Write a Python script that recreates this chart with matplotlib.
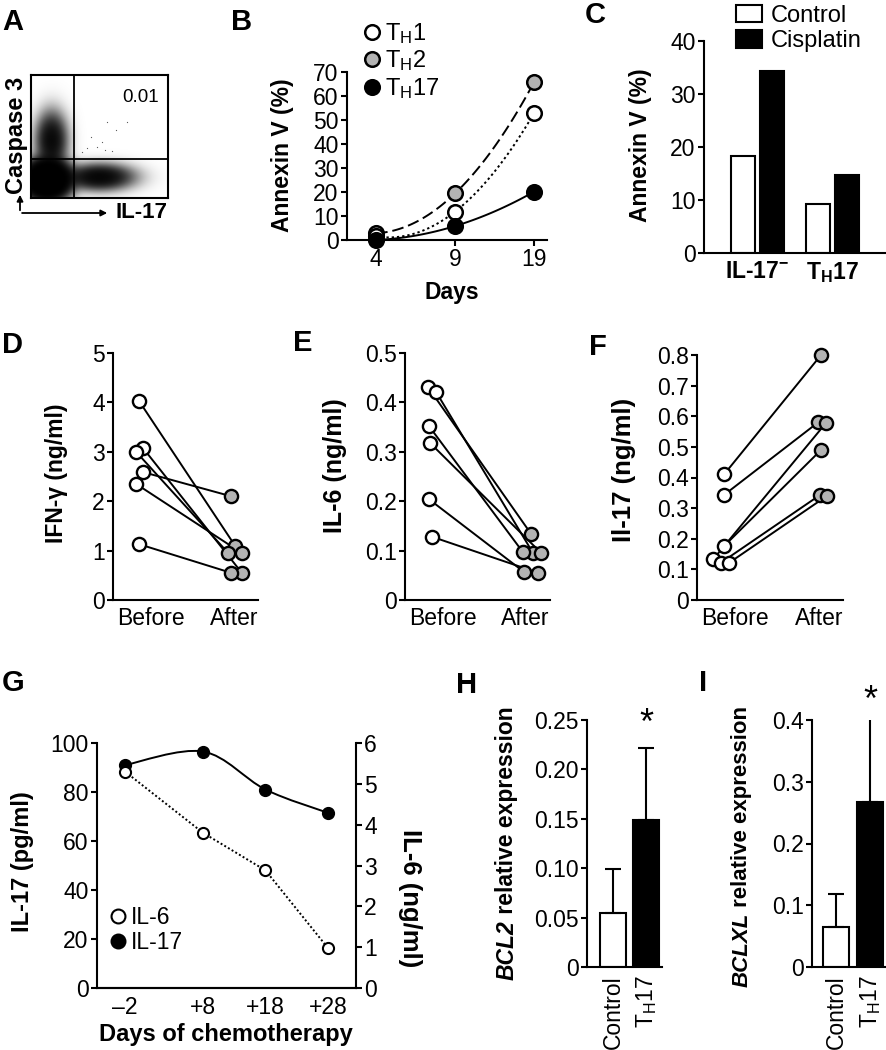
import numpy as np
import matplotlib
matplotlib.use("Agg")
import matplotlib.pyplot as plt
from matplotlib.lines import Line2D
from matplotlib.patches import Patch, PathPatch, FancyArrowPatch
from matplotlib.path import Path

W, H = 887, 1050

plt.rcParams["font.family"] = "Liberation Sans"
plt.rcParams["mathtext.fontset"] = "custom"
plt.rcParams["mathtext.rm"] = "Liberation Sans"
plt.rcParams["mathtext.it"] = "Liberation Sans:italic:bold"
plt.rcParams["mathtext.bf"] = "Liberation Sans:bold"
plt.rcParams["axes.linewidth"] = 1.5

GREY = "#b3b3b3"
TICK = 16.5
LAB = 16.5

# ------------------------------------------------------------------
# Data
# ------------------------------------------------------------------
# A: flow cytometry populations (centre x, centre y, sd x, sd y, weight)
flow_cx = [0.117, 0.150, 0.500]
flow_cy = [0.150, 0.470, 0.170]
flow_sx = [0.085, 0.060, 0.130]
flow_sy = [0.080, 0.120, 0.055]
flow_w = [9.0, 1.8, 2.0]
# sparse double-positive events
flow_dp_x = [0.557, 0.438, 0.516, 0.406, 0.479, 0.540, 0.589, 0.370, 0.703, 0.62]
flow_dp_y = [0.620, 0.493, 0.458, 0.404, 0.412, 0.390, 0.385, 0.376, 0.620, 0.55]
gate_x = 0.314
gate_y = 0.317

# B
b_days = ["4", "9", "19"]
b_th1 = [1.5, 11.8, 52.8]
b_th2 = [2.8, 19.4, 65.7]
b_th17 = [0.0, 5.8, 20.1]

# C
c_groups = [r"IL-17$^{\mathregular{-}}$", r"T$_{\mathregular{H}}$17"]
c_control = [18.3, 9.3]
c_cisplatin = [34.4, 14.8]

# D
d_before = [4.03, 3.08, 3.00, 2.59, 2.35, 1.13]
d_after = [1.10, 0.55, 0.95, 2.10, 0.95, 0.55]
d_jit_before = [0.0, 0.04, -0.03, 0.04, -0.03, 0.0]
d_jit_after = [-0.01, 0.06, -0.08, -0.05, 0.06, -0.05]

# E
e_before = [0.431, 0.421, 0.352, 0.318, 0.204, 0.128]
e_after = [0.134, 0.095, 0.097, 0.095, 0.057, 0.055]
e_jit_before = [-0.02, 0.06, -0.01, 0.0, -0.01, 0.02]
e_jit_after = [-0.01, 0.01, -0.09, 0.09, -0.08, 0.06]

# F
f_before = [0.410, 0.343, 0.176, 0.133, 0.122, 0.121]
f_after = [0.800, 0.580, 0.490, 0.578, 0.343, 0.340]
f_jit_before = [0.0, 0.0, 0.0, -0.11, -0.03, 0.05]
f_jit_after = [-0.01, -0.04, -0.01, 0.04, -0.02, 0.05]

# G
g_days = ["\u20132", "+8", "+18", "+28"]
g_xpos = [0.0, 1.0, 1.8, 2.6]
g_il17 = [91.0, 96.5, 81.0, 71.5]
g_il6 = [5.30, 3.80, 2.88, 0.98]

# H, I
hi_groups = ["Control", r"T$_{\mathregular{H}}$17"]
h_mean = [0.055, 0.149]
h_err = [0.044, 0.073]
i_mean = [0.065, 0.267]
i_err = [0.053, 0.144]


fig = plt.figure(figsize=(W / 100, H / 100), dpi=100)


def add_ax(left, top, right, bottom):
    return fig.add_axes([left / W, 1 - bottom / H, (right - left) / W, (bottom - top) / H])


def style(ax):
    ax.spines["top"].set_visible(False)
    ax.spines["right"].set_visible(False)
    ax.tick_params(direction="out", length=4, width=1.5, labelsize=TICK, pad=2)


def fig_text(px, py, s, **kw):
    return fig.text(px / W, 1 - py / H, s, **kw)


def ylabel(px, py, s, rot=90, size=LAB):
    fig_text(px, py, s, rotation=rot, ha="center", va="center",
             fontsize=size, fontweight="bold")


def gene_ylabel(px, py_bottom, gene, rest, size):
    # italic gene name followed by plain bold text, reading bottom to top
    t1 = fig_text(px, py_bottom, gene, rotation=90, ha="center", va="bottom",
                  fontsize=size, fontweight="bold", fontstyle="italic")
    fig.text(0.5, 1.0, rest, transform=matplotlib.transforms.offset_copy(
        t1.get_transform(), fig=fig), fontsize=size, fontweight="bold")
    return t1


def smooth(ax, x, y, **kw):
    # Catmull-Rom curve through the points, drawn as cubic Bezier path
    p = np.column_stack([x, y]).astype(float)
    pts = np.vstack([p[0], p, p[-1]])
    verts = [p[0]]
    codes = [Path.MOVETO]
    for i in range(1, len(pts) - 2):
        c1 = pts[i] + (pts[i + 1] - pts[i - 1]) / 6
        c2 = pts[i + 1] - (pts[i + 2] - pts[i]) / 6
        verts += [c1, c2, pts[i + 1]]
        codes += [Path.CURVE4] * 3
    ax.add_patch(PathPatch(Path(verts, codes), fill=False, **kw))


# panel letters
for letter, (px, py) in zip("ABCDEFGHI", [(13, 22), (242, 22), (595, 15), (13, 345), (303, 343),
                                       (598, 347), (13, 683), (467, 685), (703, 683)]):
    fig_text(px, py, letter, fontsize=21, fontweight="bold", ha="center", va="center")

# ------------------------------------------------------------------
# A  flow plot
# ------------------------------------------------------------------
ax = add_ax(31, 75, 168, 198)
nx, ny = 274, 246
gx = (np.arange(nx) + 0.5) / nx
gy = (np.arange(ny) + 0.5) / ny
X, Y = np.meshgrid(gx, gy)
dens = np.zeros_like(X)
for cx, cy, sx, sy, w in zip(flow_cx, flow_cy, flow_sx, flow_sy, flow_w):
    dens += w * np.exp(-0.5 * (((X - cx) / sx) ** 2 + ((Y - cy) / sy) ** 2))
shade = (1 - np.exp(-1.6 * dens)) ** 0.7
ax.imshow(shade, origin="lower", extent=[0, 1, 0, 1], cmap="gray_r",
          interpolation="bilinear", aspect="auto", vmin=0, vmax=1)
ax.scatter(flow_dp_x, flow_dp_y, s=0.8, color="0.35", linewidths=0)
ax.axvline(gate_x, color="black", lw=1.3)
ax.axhline(gate_y, color="black", lw=1.3)
ax.set_xlim(0, 1)
ax.set_ylim(0, 1)
ax.set_xticks([])
ax.set_yticks([])
ax.text(0.8, 0.82, "0.01", transform=ax.transAxes, fontsize=13.5, ha="center", va="center")
fig.add_artist(FancyArrowPatch(
    (20 / W, 1 - 213 / H), (20 / W, 1 - 192 / H), transform=fig.transFigure,
    arrowstyle="-|>", mutation_scale=9, lw=1.3, color="black"))
fig.add_artist(FancyArrowPatch(
    (19.3 / W, 1 - 213 / H), (110 / W, 1 - 213 / H), transform=fig.transFigure,
    arrowstyle="-|>", mutation_scale=9, lw=1.3, color="black"))
fig_text(116, 213, "IL-17", fontsize=16, fontweight="bold", ha="left", va="center")
fig_text(17, 135, "Caspase 3", fontsize=17, fontweight="bold", ha="center", va="center",
         rotation=90)

# ------------------------------------------------------------------
# B
# ------------------------------------------------------------------
ax = add_ax(347, 72, 547, 240)
style(ax)
xb = np.arange(len(b_days))
xs = np.linspace(0, 2, 100)
for vals, ls in [(b_th2, (0, (6, 2.5))), (b_th1, (0, (1.2, 1.5))), (b_th17, "-")]:
    coef = np.polyfit(xb, vals, 2)
    ax.plot(xs, np.polyval(coef, xs), color="black", lw=1.4, ls=ls, clip_on=False)
ax.plot(xb, b_th2, "o", ms=10.5, mfc=GREY, mec="black", mew=1.8, clip_on=False, zorder=5)
ax.plot(xb, b_th1, "o", ms=10.5, mfc="white", mec="black", mew=1.8, clip_on=False, zorder=6)
ax.plot(xb, b_th17, "o", ms=10.5, mfc="black", mec="black", mew=1.8, clip_on=False, zorder=7)
ax.set_xlim(-0.367, 2.165)
ax.set_ylim(0, 70)
ax.set_yticks(range(0, 71, 10))
ax.set_xticks(xb)
ax.set_xticklabels(b_days)
ylabel(283, 155, "Annexin V (%)")
fig_text(452, 292, "Days", fontsize=16.5, fontweight="bold", ha="center", va="center")
handles = [Line2D([], [], ls="none", marker="o", ms=10.5, mfc=c, mec="black", mew=1.8)
           for c in ["white", GREY, "black"]]
fig.legend(handles, [r"T$_{\mathregular{H}}$1", r"T$_{\mathregular{H}}$2", r"T$_{\mathregular{H}}$17"],
           loc="upper left", bbox_to_anchor=(353 / W, 1 - 9 / H), frameon=False,
           fontsize=17, handlelength=0.6, handletextpad=0.25, labelspacing=0.12, borderpad=0)

# ------------------------------------------------------------------
# C
# ------------------------------------------------------------------
ax = add_ax(704, 41, 885, 253)
style(ax)
xc = np.arange(len(c_groups))
ax.bar(xc - 0.19, c_control, width=0.32, color="white", edgecolor="black", lw=1.5)
ax.bar(xc + 0.19, c_cisplatin, width=0.32, color="black", edgecolor="black", lw=1.5)
ax.set_xlim(-0.713, 1.7)
ax.set_ylim(0, 40)
ax.set_yticks(range(0, 41, 10))
ax.set_xticks(xc)
ax.set_xticklabels(c_groups, fontweight="bold", fontsize=16.5)
ax.tick_params(axis="x", length=0, pad=5)
ylabel(641, 145, "Annexin V (%)")
fig.legend([Patch(fc="white", ec="black", lw=1.5), Patch(fc="black", ec="black", lw=1.5)],
           ["Control", "Cisplatin"], loc="upper left", bbox_to_anchor=(724 / W, 1 + 7 / H),
           frameon=False, fontsize=17, handlelength=1.1, handleheight=0.75,
           handletextpad=0.4, labelspacing=0.15, borderpad=0)


# ------------------------------------------------------------------
# D, E, F  before / after
# ------------------------------------------------------------------
def paired(box, xlim, ylim, yticks, ytl, before, after, jb, ja, tickpos):
    ax = add_ax(*box)
    style(ax)
    for b, a, j1, j2 in zip(before, after, jb, ja):
        ax.plot([0 + j1, 1 + j2], [b, a], color="black", lw=1.4, zorder=2)
    ax.plot(np.array(jb), before, "o", ms=9.5, mfc="white", mec="black", mew=1.7, zorder=4,
            clip_on=False)
    ax.plot(1 + np.array(ja), after, "o", ms=9.5, mfc=GREY, mec="black", mew=1.7, zorder=3,
            clip_on=False)
    ax.set_xlim(*xlim)
    ax.set_ylim(*ylim)
    ax.set_yticks(yticks)
    ax.set_yticklabels(ytl)
    ax.set_xticks(tickpos)
    ax.set_xticklabels(["Before", "After"])
    ax.tick_params(axis="x", length=0, pad=5)
    return ax


paired((113, 353, 258, 600), (-0.268, 1.227), (0, 5), range(6), [str(v) for v in range(6)],
       d_before, d_after, d_jit_before, d_jit_after, [0.12, 0.98])
ylabel(57, 473, "IFN-\u03b3 (ng/ml)", size=16.5)

paired((405, 353, 550, 600), (-0.245, 1.176), (0, 0.5), np.arange(0, 0.51, 0.1),
       ["0", "0.1", "0.2", "0.3", "0.4", "0.5"],
       e_before, e_after, e_jit_before, e_jit_after, [0.13, 0.93])
ylabel(335, 466, "IL-6 (ng/ml)", size=18)

paired((697, 355, 843, 600), (-0.276, 1.214), (0, 0.8), np.arange(0, 0.81, 0.1),
       ["0", "0.1", "0.2", "0.3", "0.4", "0.5", "0.6", "0.7", "0.8"],
       f_before, f_after, f_jit_before, f_jit_after, [0.11, 0.97])
ylabel(624, 470, "Il-17 (ng/ml)", size=18.5)

# ------------------------------------------------------------------
# G
# ------------------------------------------------------------------
ax = add_ax(97, 743, 356, 988)
style(ax)
ax2 = ax.twinx()
ax2.spines["top"].set_visible(False)
ax2.spines["left"].set_visible(False)
ax2.tick_params(direction="out", length=4, width=1.5, labelsize=TICK, pad=2)
smooth(ax, g_xpos, g_il17, color="black", lw=1.4)
ax.plot(g_xpos, g_il17, "o", ms=8.5, mfc="black", mec="black", zorder=4)
ax2.plot(g_xpos, g_il6, color="black", lw=1.4, ls=(0, (1, 1.2)))
ax2.plot(g_xpos, g_il6, "o", ms=8, mfc="white", mec="black", mew=1.5, zorder=4)
ax.set_xlim(-0.359, 2.96)
ax.set_ylim(0, 100)
ax.set_yticks(range(0, 101, 20))
ax2.set_ylim(0, 6)
ax2.set_yticks(range(7))
ax.set_xticks(g_xpos)
ax.set_xticklabels(g_days)
ax.tick_params(axis="x", length=0, pad=6)
ylabel(23, 862, "IL-17 (pg/ml)", size=17)
ylabel(410, 898, "IL-6 (ng/ml)", rot=270, size=18.5)
fig_text(226, 1035, "Days of chemotherapy", fontsize=17, fontweight="bold", ha="center",
         va="center")
ax2.legend([Line2D([], [], ls="none", marker="o", ms=10, mfc="white", mec="black", mew=1.5),
            Line2D([], [], ls="none", marker="o", ms=10, mfc="black", mec="black", mew=1.5)],
           ["IL-6", "IL-17"], loc="upper left", bbox_to_anchor=(100 / W, 1 - 895 / H),
           bbox_transform=fig.transFigure, frameon=False, fontsize=16.5, handlelength=0.6,
           handletextpad=0.25, labelspacing=0.05, borderpad=0)


# ------------------------------------------------------------------
# H, I
# ------------------------------------------------------------------
def expr(box, xlim, ylim, yticks, ytl, means, errs, star_y):
    ax = add_ax(*box)
    style(ax)
    x = np.arange(len(means))
    ax.bar(x, means, width=0.78, color=["white", "black"], edgecolor="black", lw=1.5, zorder=2)
    ax.errorbar(x, means, yerr=[np.zeros(len(errs)), errs], fmt="none", ecolor="black",
                elinewidth=1.5, capsize=6, capthick=1.5, zorder=3)
    ax.text(1, star_y, "*", fontsize=26, ha="center", va="center")
    ax.set_xlim(*xlim)
    ax.set_ylim(*ylim)
    ax.set_yticks(yticks)
    ax.set_yticklabels(ytl)
    ax.set_xticks(x)
    ax.set_xticklabels(hi_groups, rotation=90, fontsize=TICK)
    ax.tick_params(axis="x", length=0, pad=6)
    return ax


expr((587, 720, 662, 967), (-0.79, 1.48), (0, 0.25), np.arange(0, 0.251, 0.05),
     ["0", "0.05", "0.10", "0.15", "0.20", "0.25"], h_mean, h_err, 0.245)
t_h = fig_text(507, 980, "BCL2", rotation=90, ha="center", va="bottom", fontsize=16.5,
               fontweight="bold", fontstyle="italic")
fig.canvas.draw()
bb = t_h.get_window_extent()
fig.text(bb.x0 + bb.width / 2, bb.y1, " relative expression", transform=None, rotation=90,
         ha="center", va="bottom", fontsize=16.5, fontweight="bold")

expr((812, 720, 887, 967), (-0.715, 1.5), (0, 0.4), np.arange(0, 0.41, 0.1),
     ["0", "0.1", "0.2", "0.3", "0.4"], i_mean, i_err, 0.43)
t_i = fig_text(742, 987, "BCLXL", rotation=90, ha="center", va="bottom", fontsize=16,
               fontweight="bold", fontstyle="italic")
fig.canvas.draw()
bb = t_i.get_window_extent()
fig.text(bb.x0 + bb.width / 2, bb.y1, " relative expression", transform=None, rotation=90,
         ha="center", va="bottom", fontsize=16, fontweight="bold")

fig.savefig("out.png", dpi=100)
